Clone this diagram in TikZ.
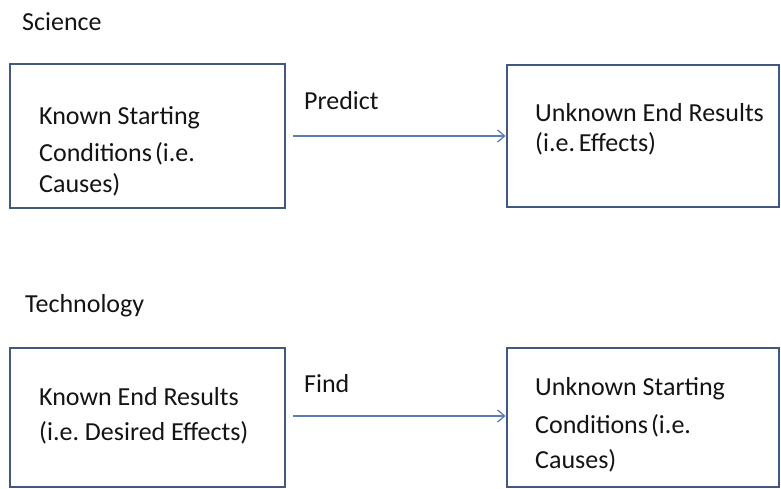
\documentclass[tikz,border=0pt]{standalone}
\usepackage{fontspec}
\setmainfont{Carlito}
\usetikzlibrary{arrows.meta}
\definecolor{boxline}{HTML}{43587E}
\definecolor{arrowline}{HTML}{5A7DB5}
\definecolor{txtcol}{HTML}{141414}
\frenchspacing
\tikzset{
  boxnode/.style={draw=boxline, line width=2.8pt, fill=white, rectangle, inner sep=0pt},
  txt/.style={anchor=base west, inner sep=0pt, text=txtcol, font=\fontsize{26}{31}\selectfont},
  conn/.style={draw=arrowline, line width=1.4pt, -{Straight Barb[length=7pt,width=12pt,line width=1.3pt]}, shorten <=7pt}
}
\begin{document}
\begin{tikzpicture}[x=1pt,y=-1pt]
\useasboundingbox (0,0) rectangle (781,489);
% boxes
\node[boxnode, minimum width=275pt, minimum height=144pt] (kc) at (147.5,136) {};
\node[boxnode, minimum width=272pt, minimum height=142pt] (ue) at (643,136) {};
\node[boxnode, minimum width=275pt, minimum height=139pt] (ke) at (147.5,417.5) {};
\node[boxnode, minimum width=272pt, minimum height=139pt] (uc) at (643,417.5) {};
% headings
\node[txt] (sci) at (22,31) {Science};
\node[txt] (tech) at (25,312) {Technology};
% box texts
\node[txt] (kc1) at (39,125) {Known Starting};
\node[txt] (kc2) at (39,162) {Conditions\hspace{0.12em}(i.e.};
\node[txt] (kc3) at (39,193) {Causes)};
\node[txt] (ue1) at (535,122) {Unknown End Results};
\node[txt] (ue2) at (535,152) {(i.e.\hspace{0.15em}Effects)};
\node[txt] (ke1) at (39,405) {Known End Results};
\node[txt] (ke2) at (39,440) {(i.e. Desired Effects)};
\node[txt] (uc1) at (535,395) {Unknown Starting};
\node[txt] (uc2) at (535,433) {Conditions\hspace{0.12em}(i.e.};
\node[txt] (uc3) at (535,468) {Causes)};
% arrows
\draw[conn] (kc.east) -- (ue.west);
\draw[conn] ([yshift=1.5pt]ke.east) -- ([yshift=1.5pt]uc.west);
\node[txt] (pred) at (304,110) {Predict};
\node[txt] (find) at (304,392) {Find};
\end{tikzpicture}
\end{document}
